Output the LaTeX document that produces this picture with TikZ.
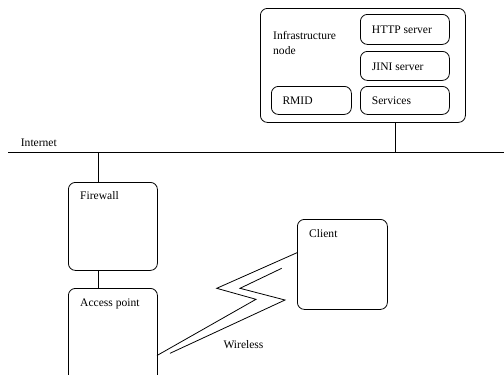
\documentclass[tikz,border=0pt]{standalone}
\usepackage{fontspec}
\setmainfont{Liberation Serif}
\begin{document}
\begin{tikzpicture}[x=1bp,y=-1bp,
  box/.style={draw,line width=0.8bp,rounded corners=7bp,anchor=north west,inner sep=0pt},
  lbl/.style={anchor=base west,inner sep=0pt,font=\fontsize{11.6}{14}\selectfont},
  wire/.style={line width=0.8bp}]
\useasboundingbox (0,0) rectangle (504,374);
\clip (0,0) rectangle (504,374);

% infrastructure node and its parts
\node[box,minimum width=205bp,minimum height=114bp] (infra) at (260,8) {};
\node[box,minimum width=89bp,minimum height=30bp] (http) at (360,14) {};
\node[box,minimum width=89bp,minimum height=29bp] (jini) at (360,51) {};
\node[box,minimum width=89bp,minimum height=28bp] (serv) at (360,86) {};
\node[box,minimum width=80bp,minimum height=28bp] (rmid) at (271,86) {};
\node[lbl] (tinfra) at (273,39) {Infrastructure};
\node[lbl] (tnode) at (273,54) {node};
\node[lbl] (thttp) at (371.7,33) {HTTP server};
\node[lbl] (tjini) at (371.7,70) {JINI server};
\node[lbl] (tserv) at (371.7,104.5) {Services};
\node[lbl] (trmid) at (282.3,104.5) {RMID};

% the internet backbone
\coordinate (netL) at (8,152);
\coordinate (netR) at (504,152);
\draw[wire] (netL) -- (netR);
\node[lbl] (tnet) at (20.7,146) {Internet};
\draw[wire] (infra.south -| 395,0) -- (395,152);

% firewall and access point
\node[box,minimum width=89bp,minimum height=88bp] (fw) at (68,182) {};
\node[box,minimum width=89bp,minimum height=110bp] (ap) at (68,288) {};
\node[lbl] (tfw) at (80,199) {Firewall};
\node[lbl] (tap) at (80,306.7) {Access point};
\draw[wire] (fw.north -| 98,0) -- (98,152);
\draw[wire] (fw.south -| 98,0) -- (ap.north -| 98,0);

% client
\node[box,minimum width=90bp,minimum height=90bp] (client) at (297,219) {};
\node[lbl] (tclient) at (309,237.3) {Client};

% wireless link drawn as a lightning bolt
\coordinate (a1) at (157,355.5);
\coordinate (a2) at (256,299.3);
\coordinate (a3) at (216.7,288.3);
\coordinate (a4) at (297,252.7);
\coordinate (b1) at (170,353.3);
\coordinate (b2) at (285,300);
\coordinate (b3) at (240,288.3);
\coordinate (b4) at (281.7,268.3);
\draw[wire] (a1) -- (a2) -- (a3) -- (a4);
\draw[wire] (b1) -- (b2) -- (b3) -- (b4);
\node[lbl] (twire) at (223.3,348.3) {Wireless};
\end{tikzpicture}
\end{document}
